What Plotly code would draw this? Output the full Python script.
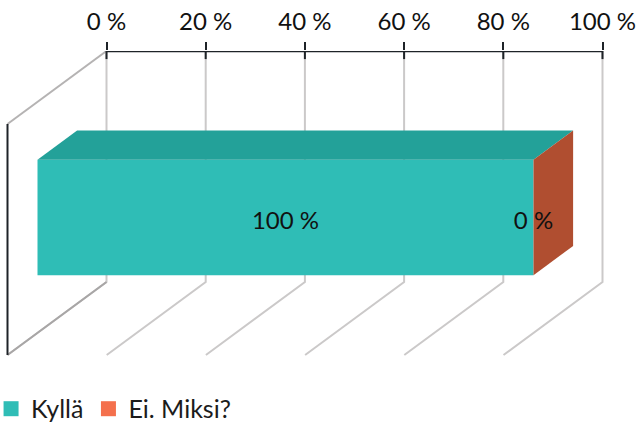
import plotly.graph_objects as go

# Data
series_names = ["Kyllä", "Ei. Miksi?"]
series_values = [100, 0]
series_labels = ["100 %", "0 %"]
tick_values = [0, 20, 40, 60, 80, 100]
tick_labels = ["0 %", "20 %", "40 %", "60 %", "80 %", "100 %"]

# Oblique projection of the 3D box onto the 2D axes
W, H = 639, 424
X_SCALE = 4.96   # px per %
Y_SCALE = 2.31   # px per height unit
DEPTH_DX = -99 / X_SCALE
DEPTH_DY = -73 / Y_SCALE
BAR_LOW, BAR_HIGH = 25, 75
D_FRONT, D_BACK = 0.697, 0.297
LABEL_DROP = 2.6

def px(x, h, d):
    return x + d * DEPTH_DX, h + d * DEPTH_DY

def poly(points):
    xs, ys = zip(*[px(*p) for p in points])
    return list(xs) + [xs[0]], list(ys) + [ys[0]]

FONT = "Lato, Carlito, sans-serif"
GRID = "#CBC9C9"
INK = "#1E2328"
fig = go.Figure()

# Walls / gridlines
for t in tick_values:
    xs, ys = zip(px(t, 100, 0), px(t, 0, 0), px(t, 0, 1))
    fig.add_trace(go.Scatter(x=xs, y=ys, mode="lines", showlegend=False, hoverinfo="skip",
                             line=dict(color=GRID, width=2), zorder=-2))
xs, ys = zip(px(0, 100, 0), px(0, 100, 1))
fig.add_trace(go.Scatter(x=xs, y=ys, mode="lines", showlegend=False, hoverinfo="skip",
                         line=dict(color="#B5B3B3", width=2), zorder=-2))
xs, ys = zip(px(0, 0, 0), px(0, 0, 1))
fig.add_trace(go.Scatter(x=xs, y=ys, mode="lines", showlegend=False, hoverinfo="skip",
                         line=dict(color="#A8A6A6", width=2), zorder=-2))
xs, ys = zip(px(0, 100, 1), px(0, 0, 1))
fig.add_trace(go.Scatter(x=xs, y=ys, mode="lines", showlegend=False, hoverinfo="skip",
                         line=dict(color=INK, width=2), zorder=-1))

# Value axis line and the inner half of its ticks
fig.add_trace(go.Scatter(x=[tick_values[0], tick_values[-1]], y=[100, 100], mode="lines",
                         showlegend=False, hoverinfo="skip",
                         line=dict(color=INK, width=2.5), cliponaxis=False))
for t in tick_values:
    fig.add_trace(go.Scatter(x=[t, t], y=[100, 96.5], mode="lines", showlegend=False,
                             hoverinfo="skip", line=dict(color=INK, width=2)))

# Bars: the front face of the stack
front_x, front_low = px(0, BAR_LOW, D_FRONT)
_, front_high = px(0, BAR_HIGH, D_FRONT)
front_y = (front_low + front_high) / 2
bar_colors = ["#2FBDB6", "#F4704D"]
start = 0
ends = []
for name, val, col in zip(series_names, series_values, bar_colors):
    fig.add_trace(go.Bar(x=[val], y=[front_y], base=[start + front_x], width=[front_high - front_low],
                         orientation="h", name=name, showlegend=False,
                         marker=dict(color=col, line=dict(width=0))))
    start += val
    ends.append(start)

# Top of the teal block and the exposed end of the stack
x_end = ends[-1]
xs, ys = poly([(0, BAR_HIGH, D_FRONT), (ends[0], BAR_HIGH, D_FRONT),
               (ends[0], BAR_HIGH, D_BACK), (0, BAR_HIGH, D_BACK)])
fig.add_trace(go.Scatter(x=xs, y=ys, fill="toself", mode="none", fillcolor="#23A199",
                         showlegend=False, hoverinfo="skip"))
xs, ys = poly([(x_end, BAR_LOW, D_FRONT), (x_end, BAR_HIGH, D_FRONT),
               (x_end, BAR_HIGH, D_BACK), (x_end, BAR_LOW, D_BACK)])
fig.add_trace(go.Scatter(x=xs, y=ys, fill="toself", mode="none", fillcolor="#B04E30",
                         showlegend=False, hoverinfo="skip"))

# Legend keys
for name, col in zip(series_names, bar_colors):
    fig.add_trace(go.Scatter(x=[None], y=[None], mode="markers", name=name,
                             marker=dict(symbol="square", size=15, color=col)))

# Data labels
starts = [0, series_values[0]]
label_x = [s + v / 2 + front_x for s, v in zip(starts, series_values)]
label_y = [front_y - LABEL_DROP] * 2
fig.add_trace(go.Scatter(x=label_x, y=label_y, mode="text", text=series_labels,
                         textfont=dict(family=FONT, size=24, color="#111111"),
                         textposition="middle center", showlegend=False, hoverinfo="skip",
                         cliponaxis=False))

y_low = -(H - 282) / Y_SCALE
x_low = -106.5 / X_SCALE
x_high = (W - 106.5) / X_SCALE

fig.update_layout(
    width=W, height=H, autosize=False,
    margin=dict(l=0, r=0, t=51, b=0, autoexpand=False),
    paper_bgcolor="white", plot_bgcolor="white",
    barmode="overlay",
    font=dict(family=FONT, size=24, color="#111111"),
    showlegend=True,
    legend=dict(orientation="h", x=-0.014, xanchor="left", y=0.102, yanchor="top",
                font=dict(family=FONT, size=25, color="#1b1b1b"),
                itemwidth=30, tracegroupgap=0, bgcolor="rgba(0,0,0,0)", itemclick=False),
    xaxis=dict(range=[x_low, x_high], side="top", tickmode="array", tickvals=tick_values,
               ticktext=tick_labels, ticks="outside", ticklen=8, tickwidth=2, tickcolor=INK,
               showgrid=False, zeroline=False, showline=False, ticklabelstandoff=2,
               tickfont=dict(family=FONT, size=24, color="#111111")),
    yaxis=dict(range=[y_low, 100], visible=False, showgrid=False, zeroline=False),
)

fig.write_html("out.html", post_script="document.body.style.margin='0';",
               config={"displayModeBar": False})
